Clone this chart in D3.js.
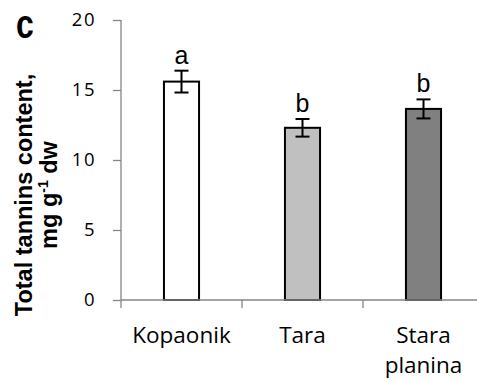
<!DOCTYPE html>
<meta charset="utf-8">
<style>
body { margin: 0; background: #fff; }
.axis path, .axis line { stroke: #868686; stroke-width: 1.3px; }
.axis text { font-family: "Open Sans", sans-serif; fill: #000; }
</style>
<body>
<script src="https://d3js.org/d3.v7.min.js"></script>
<script>
var sites = ["Kopaonik", "Tara", "Stara planina"];
var siteLines = [["Kopaonik"], ["Tara"], ["Stara", "planina"]];
var tannins = [15.6, 12.3, 13.65];
var errors = [0.78, 0.63, 0.68];
var letters = ["a", "b", "b"];
var fills = ["#ffffff", "#c0c0c0", "#808080"];
var yTicks = [0, 5, 10, 15, 20];

var width = 477, height = 381;

var svg = d3.select("body").append("svg")
    .attr("width", width)
    .attr("height", height);

var x = d3.scaleBand().domain(sites).range([121, 484]).padding(0);
var y = d3.scaleLinear().domain([0, 20]).range([300, 20]);
var barW = x.bandwidth() * 0.29;

// y axis (labels drawn separately)
var yAxis = svg.append("g")
    .attr("class", "axis")
    .attr("transform", "translate(121,0)")
    .call(d3.axisLeft(y).tickValues(yTicks).tickSize(8).tickSizeOuter(0).tickFormat(""));
yAxis.select(".domain").attr("d", "M0," + y(20) + "V" + y(0));

svg.selectAll(".ylab")
    .data(yTicks)
  .enter().append("text")
    .attr("x", 96)
    .attr("y", function(d) { return y(d); })
    .attr("dy", "0.34em")
    .attr("text-anchor", "end")
    .attr("letter-spacing", "1.5px")
    .style("font-family", "'Open Sans', sans-serif")
    .style("font-size", "18.5px")
    .text(function(d) { return d; });

// x axis line + boundary ticks
var xg = svg.append("g").attr("class", "axis");
xg.selectAll(".btick")
    .data(sites.map(function(s) { return x(s); }).concat([x.range()[1]]))
  .enter().append("line")
    .attr("x1", function(d) { return d; }).attr("x2", function(d) { return d; })
    .attr("y1", y(0)).attr("y2", y(0) + 8);

// bars
svg.selectAll(".bar")
    .data(tannins)
  .enter().append("rect")
    .attr("x", function(d, i) { return x(sites[i]) + x.bandwidth() / 2 - barW / 2; })
    .attr("y", function(d) { return y(d); })
    .attr("width", barW)
    .attr("height", function(d) { return y(0) - y(d); })
    .attr("fill", function(d, i) { return fills[i]; })
    .attr("stroke", "#000")
    .attr("stroke-width", 2);

// axis baseline over bars
svg.append("line")
    .attr("x1", x.range()[0]).attr("x2", x.range()[1])
    .attr("y1", y(0)).attr("y2", y(0))
    .attr("stroke", "#868686").attr("stroke-width", 1.3);

// error bars
var eb = svg.selectAll(".err")
    .data(tannins)
  .enter().append("g")
    .attr("transform", function(d, i) { return "translate(" + (x(sites[i]) + x.bandwidth() / 2) + ",0)"; })
    .attr("stroke", "#000")
    .attr("stroke-width", 2);
eb.append("line")
    .attr("y1", function(d, i) { return y(d + errors[i]); })
    .attr("y2", function(d, i) { return y(d - errors[i]); });
eb.append("line")
    .attr("x1", -7).attr("x2", 7)
    .attr("y1", function(d, i) { return y(d + errors[i]); })
    .attr("y2", function(d, i) { return y(d + errors[i]); });
eb.append("line")
    .attr("x1", -7).attr("x2", 7)
    .attr("y1", function(d, i) { return y(d - errors[i]); })
    .attr("y2", function(d, i) { return y(d - errors[i]); });

// significance letters
svg.selectAll(".letter")
    .data(tannins)
  .enter().append("text")
    .attr("x", function(d, i) { return x(sites[i]) + x.bandwidth() / 2; })
    .attr("y", function(d, i) { return y(d + errors[i]) - 7; })
    .attr("text-anchor", "middle")
    .style("font-family", "'Liberation Sans', Arial, sans-serif")
    .style("font-size", "25px")
    .text(function(d, i) { return letters[i]; });

// category labels
var cat = svg.selectAll(".cat")
    .data(sites)
  .enter().append("text")
    .attr("x", function(d) { return x(d) + x.bandwidth() / 2; })
    .attr("y", 343)
    .attr("text-anchor", "middle")
    .style("font-family", "'Open Sans', sans-serif")
    .style("font-size", "22.5px");
cat.selectAll("tspan")
    .data(function(d, i) { return siteLines[i]; })
  .enter().append("tspan")
    .attr("x", function() { return d3.select(this.parentNode).attr("x"); })
    .attr("dy", function(d, i) { return i ? 30 : 0; })
    .text(function(d) { return d; });

// y title
var tfont = "'Liberation Sans', Arial, sans-serif";
svg.append("text")
    .attr("transform", "translate(32,195) rotate(-90)")
    .attr("text-anchor", "middle")
    .style("font-family", tfont).style("font-weight", "bold").style("font-size", "23.5px")
    .text("Total tannins content,");
var t2 = svg.append("text")
    .attr("transform", "translate(57,195) rotate(-90)")
    .attr("text-anchor", "middle")
    .style("font-family", tfont).style("font-weight", "bold").style("font-size", "23.5px");
t2.append("tspan").text("mg g");
t2.append("tspan").attr("dy", -9).style("font-size", "14px").text("-1");
t2.append("tspan").attr("dy", 9).text(" dw");

// panel label
svg.append("text")
    .attr("transform", "translate(16,38) scale(0.78,1)")
    .style("font-family", tfont).style("font-weight", "bold").style("font-size", "41px")
    .text("c");
</script>
</body>
